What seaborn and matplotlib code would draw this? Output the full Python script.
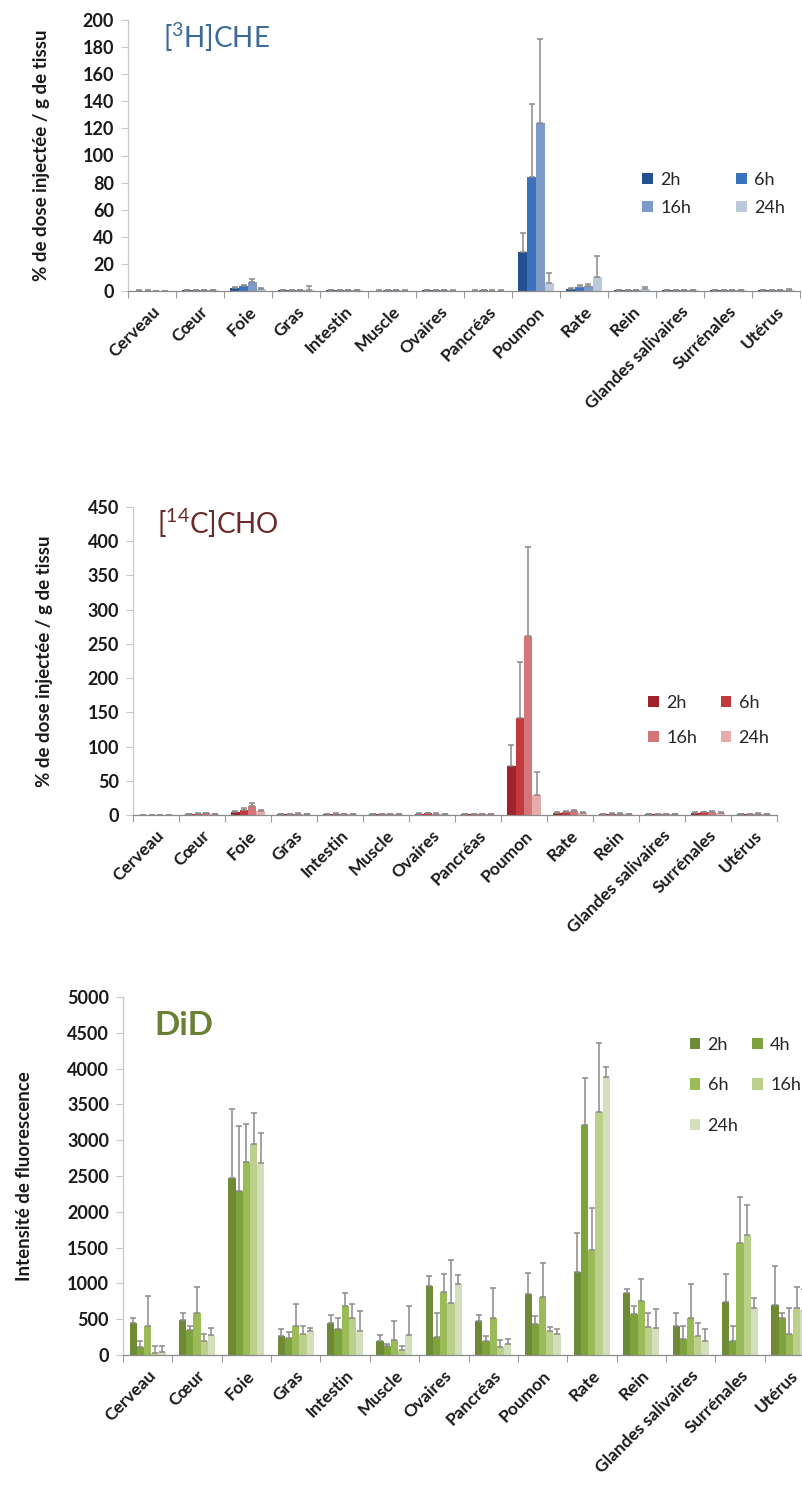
import numpy as np
import pandas as pd
import matplotlib
matplotlib.use("Agg")
import matplotlib.pyplot as plt
import seaborn as sns

# ---------------------------------------------------------------- data
organs = ["Cerveau", "Cœur", "Foie", "Gras", "Intestin", "Muscle", "Ovaires",
          "Pancréas", "Poumon", "Rate", "Rein", "Glandes salivaires",
          "Surrénales", "Utérus"]

# [3H]CHE : % de dose injectée / g de tissu
che_times = ["2h", "6h", "16h", "24h"]
che_2h = [0.3, 0.5, 2.0, 0.5, 0.6, 0.3, 0.4, 0.3, 29, 1.5, 0.6, 0.4, 0.6, 0.5]
che_6h = [0.3, 0.6, 3.5, 0.5, 0.7, 0.4, 0.5, 0.4, 84, 3.0, 0.7, 0.5, 0.7, 0.6]
che_16h = [0.2, 0.5, 7.0, 0.4, 0.5, 0.4, 0.4, 0.3, 124, 4.0, 0.8, 0.5, 0.6, 0.8]
che_24h = [0.2, 0.4, 1.5, 0.6, 0.4, 0.3, 0.3, 0.3, 6, 10.5, 1.2, 0.4, 0.5, 1.0]
che_sd_2h = [0.1, 0.2, 0.8, 0.2, 0.3, 0.1, 0.2, 0.1, 14, 0.8, 0.3, 0.2, 0.3, 0.2]
che_sd_6h = [0.1, 0.2, 1.0, 0.2, 0.3, 0.1, 0.2, 0.1, 54, 1.2, 0.3, 0.2, 0.3, 0.3]
che_sd_16h = [0.1, 0.2, 2.0, 0.2, 0.2, 0.1, 0.2, 0.1, 62, 1.0, 0.3, 0.2, 0.2, 0.3]
che_sd_24h = [0.1, 0.2, 0.5, 3.0, 0.2, 0.1, 0.1, 0.1, 7, 15.5, 1.5, 0.2, 0.2, 0.5]

# [14C]CHO : % de dose injectée / g de tissu
cho_times = ["2h", "6h", "16h", "24h"]
cho_2h = [0.3, 1.5, 4, 1.2, 1.5, 0.8, 1.8, 0.8, 71, 3.5, 1.5, 1.0, 3.0, 1.0]
cho_6h = [0.3, 2.0, 7, 1.5, 1.8, 1.0, 2.2, 1.0, 142, 5.0, 2.0, 1.5, 4.0, 1.5]
cho_16h = [0.2, 2.2, 13, 1.8, 1.5, 1.2, 2.0, 1.2, 261, 5.5, 2.0, 1.5, 4.5, 1.8]
cho_24h = [0.2, 1.5, 6, 1.2, 1.0, 0.8, 1.5, 0.8, 29, 3.5, 1.5, 1.0, 3.0, 1.2]
cho_sd_2h = [0.1, 0.5, 2, 0.5, 0.5, 0.3, 0.6, 0.3, 31, 1.0, 0.5, 0.3, 0.8, 0.4]
cho_sd_6h = [0.1, 0.6, 3, 0.5, 0.6, 0.3, 0.6, 0.3, 81, 1.2, 0.6, 0.4, 1.0, 0.5]
cho_sd_16h = [0.1, 0.6, 5, 0.6, 0.5, 0.4, 0.6, 0.4, 131, 1.5, 0.6, 0.4, 1.2, 0.5]
cho_sd_24h = [0.1, 0.5, 2, 0.4, 0.4, 0.3, 0.5, 0.3, 34, 1.0, 0.5, 0.3, 0.8, 0.4]

# DiD : intensité de fluorescence
did_times = ["2h", "4h", "6h", "16h", "24h"]
did_2h = [440, 490, 2476, 270, 450, 200, 960, 470, 850, 1164, 860, 400, 740, 700]
did_4h = [110, 350, 2290, 240, 370, 120, 250, 190, 430, 3212, 570, 220, 200, 510]
did_6h = [400, 590, 2700, 410, 680, 210, 880, 520, 810, 1466, 750, 520, 1560, 290]
did_16h = [30, 190, 2947, 290, 510, 70, 720, 110, 330, 3398, 390, 270, 1676, 650]
did_24h = [40, 280, 2677, 330, 330, 280, 990, 160, 300, 3878, 380, 190, 650, 620]
did_sd_2h = [70, 100, 960, 90, 110, 80, 150, 90, 300, 536, 60, 190, 390, 540]
did_sd_4h = [90, 60, 908, 80, 140, 40, 340, 70, 110, 653, 110, 180, 210, 80]
did_sd_6h = [420, 360, 526, 300, 180, 260, 250, 410, 470, 583, 310, 470, 651, 360]
did_sd_16h = [90, 110, 429, 120, 200, 50, 610, 100, 60, 964, 200, 180, 419, 300]
did_sd_24h = [80, 100, 428, 50, 290, 400, 130, 70, 70, 149, 260, 180, 140, 300]

# ---------------------------------------------------------------- style
sns.set_theme(style="white")
plt.rcParams["font.family"] = ["Lato", "DejaVu Sans"]
plt.rcParams["mathtext.fontset"] = "custom"
plt.rcParams["mathtext.rm"] = "Lato"

ERR_COLOR = "#8A8A8A"


def long_frame(times, series):
    rows = []
    for t, vals in zip(times, series):
        for o, v in zip(organs, vals):
            rows.append((o, t, v))
    return pd.DataFrame(rows, columns=["organe", "temps", "valeur"])


def row_major(items, ncol):
    # matplotlib fills legend columns first; reorder so entries read by rows
    nrow = -(-len(items) // ncol)
    grid = [items[i:i + ncol] for i in range(0, len(items), ncol)]
    out = []
    for c in range(ncol):
        for r in range(nrow):
            if c < len(grid[r]):
                out.append(grid[r][c])
    return out


def panel(ax, times, series, errors, colors, ymax, ystep, ylabel, ylabel_x,
          title, title_color, title_size, title_weight, title_xy,
          leg_anchor, leg_spacing, leg_colspacing):
    df = long_frame(times, series)
    sns.barplot(data=df, x="organe", y="valeur", hue="temps", order=organs,
                hue_order=times, palette=colors, width=0.73, gap=0,
                errorbar=None, saturation=1, linewidth=0, ax=ax)

    # upper error bars only
    for cont, err in zip(ax.containers, errors):
        xs = [b.get_x() + b.get_width() / 2 for b in cont]
        hs = [b.get_height() for b in cont]
        ax.errorbar(xs, hs, yerr=[np.zeros(len(err)), err], fmt="none",
                    ecolor=ERR_COLOR, elinewidth=1.1, capsize=2.5,
                    capthick=1.1, zorder=3)

    ax.set_xlim(-0.5, len(organs) - 0.5)
    ax.set_ylim(0, ymax)
    ax.set_yticks(np.arange(0, ymax + ystep / 2, ystep))
    ax.set_xticks(range(len(organs)))
    ax.set_xticklabels(organs, rotation=45, ha="right",
                       rotation_mode="anchor", fontsize=12.5,
                       fontweight="bold", color="#1A1A1A")
    ax.set_xticks(np.arange(-0.5, len(organs) + 0.5, 1), minor=True)
    ax.tick_params(axis="x", which="major", length=0, pad=9)
    ax.tick_params(axis="x", which="minor", length=5, width=0.8,
                   color="#9A9A9A", direction="out", bottom=True)
    ax.tick_params(axis="y", length=5, width=0.8, color="#C8C8C8",
                   direction="out", left=True, pad=5)
    for lab in ax.get_yticklabels():
        lab.set_fontsize(13)
        lab.set_fontweight("bold")
        lab.set_color("#1A1A1A")

    for s in ("top", "right"):
        ax.spines[s].set_visible(False)
    ax.spines["left"].set_color("#C8C8C8")
    ax.spines["left"].set_linewidth(0.9)
    ax.spines["bottom"].set_color("#8C8C8C")
    ax.spines["bottom"].set_linewidth(0.9)

    ax.set_xlabel("")
    ax.set_ylabel(ylabel, fontsize=13.5, fontweight="bold", color="#1A1A1A")
    ax.yaxis.set_label_coords(ylabel_x, 0.5)

    ax.text(title_xy[0], title_xy[1], title, transform=ax.transAxes,
            ha="left", va="center", fontsize=title_size, color=title_color,
            fontweight=title_weight)

    handles, labels = ax.get_legend_handles_labels()
    ax.legend(row_major(handles, 2), row_major(labels, 2), ncol=2,
              loc="upper left", bbox_to_anchor=leg_anchor, frameon=False,
              fontsize=13, handlelength=0.6, handleheight=0.6,
              handletextpad=0.4, labelspacing=leg_spacing,
              columnspacing=leg_colspacing, borderpad=0, borderaxespad=0)


fig = plt.figure(figsize=(8.02, 14.85), dpi=100)
W, H = 802.0, 1485.0


def add_axes(x0, x1, y_top, y_zero):
    return fig.add_axes([x0 / W, 1 - y_zero / H, (x1 - x0) / W,
                         (y_zero - y_top) / H])


ax1 = add_axes(128, 800, 20, 291)
panel(ax1, che_times, [che_2h, che_6h, che_16h, che_24h],
      [che_sd_2h, che_sd_6h, che_sd_16h, che_sd_24h],
      ["#24508F", "#3A72BE", "#7C9BC8", "#BCC9DB"],
      200, 20, "% de dose injectée / g de tissu", -0.116,
      r"[$\mathregular{^{3}}$H]CHE", "#3C6A9A", 20, "normal", (0.052, 0.935),
      (0.765, 0.439), 0.65, 2.5)

ax2 = add_axes(133, 777, 507, 815)
panel(ax2, cho_times, [cho_2h, cho_6h, cho_16h, cho_24h],
      [cho_sd_2h, cho_sd_6h, cho_sd_16h, cho_sd_24h],
      ["#A0232B", "#C23A3E", "#D4757A", "#E8ABAC"],
      450, 50, "% de dose injectée / g de tissu", -0.124,
      r"[$\mathregular{^{14}}$C]CHO", "#6A2A28", 20, "normal", (0.037, 0.948),
      (0.80, 0.39), 1.05, 1.3)

ax3 = add_axes(123, 814, 997, 1355)
panel(ax3, did_times, [did_2h, did_4h, did_6h, did_16h, did_24h],
      [did_sd_2h, did_sd_4h, did_sd_6h, did_sd_16h, did_sd_24h],
      ["#6F8A36", "#7FA33C", "#9BBB59", "#BBD08A", "#D4DFBC"],
      5000, 500, "Intensité de fluorescence", -0.130,
      "DiD", "#6B7F35", 24, "bold", (0.046, 0.92),
      (0.82, 0.888), 1.35, 0.75)

fig.savefig("out.png", dpi=100, facecolor="white")
